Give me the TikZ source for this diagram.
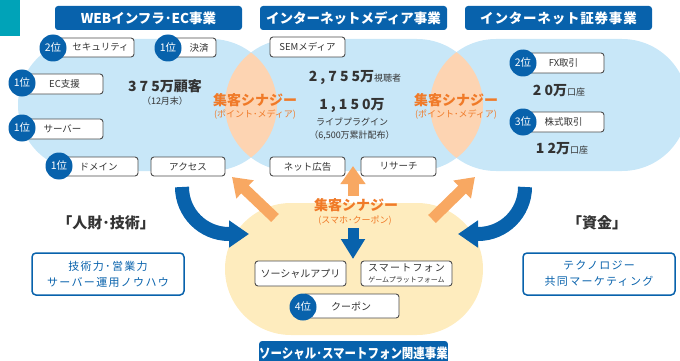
\documentclass[tikz,border=0pt]{standalone}
\usepackage{graphicx}
\usepackage{fontspec}
\setmainfont{Noto Sans CJK JP}
\newfontfamily\widefont[LetterSpace=22]{Noto Sans CJK JP}
\newfontfamily\spacedfont[LetterSpace=12]{Noto Sans CJK JP}
\usetikzlibrary{arrows.meta}

\definecolor{infoblue}{RGB}{8,98,172}
\definecolor{areablue}{RGB}{200,231,248}
\definecolor{peach}{RGB}{253,212,178}
\definecolor{cream}{RGB}{254,236,190}
\definecolor{synorange}{RGB}{240,122,40}
\definecolor{arroworange}{RGB}{248,168,98}
\definecolor{textgray}{RGB}{51,51,51}
\definecolor{cornerteal}{RGB}{0,163,184}

\begin{document}
\begin{tikzpicture}[x=1pt,y=-1pt,
    title/.style = {fill=infoblue, rounded corners=3pt, text=white,
        font=\fontsize{13.5}{14}\selectfont\bfseries,
        minimum width=187, minimum height=24, inner sep=0},
    item/.style = {draw=black!70, fill=white, rounded corners=3pt,
        line width=0.9pt, minimum height=19, inner sep=0,
        text=textgray, font=\fontsize{9.5}{11}\selectfont},
    rank/.style = {circle, fill=infoblue, text=white, minimum size=27,
        inner sep=0, font=\fontsize{10.5}{11}\selectfont},
    figure/.style = {text=textgray, font=\fontsize{14}{15}\selectfont\bfseries},
    note/.style = {text=textgray, font=\fontsize{9}{10}\selectfont},
    synergy/.style = {text=synorange, font=\fontsize{14}{15}\selectfont\bfseries},
    synnote/.style = {text=synorange, font=\fontsize{9}{10}\selectfont},
    asset/.style = {text=textgray, font=\fontsize{15}{16}\selectfont\bfseries},
    assetbox/.style = {draw=infoblue, line width=1.5pt, rounded corners=4pt,
        fill=white, text=infoblue, minimum width=152, minimum height=42,
        align=center, font=\spacedfont\fontsize{11}{16}\selectfont},
    pusharrow/.style = {draw=arroworange, line width=11pt,
        -{Triangle[width=24pt,length=18pt]}},
    pullarrow/.style = {draw=infoblue, line width=14pt,
        -{Triangle[width=26pt,length=20pt]}}]

\useasboundingbox (0,0) rectangle (680,361);

% Corner mark
\fill[cornerteal] (0,0) rectangle (20,36);

% Business areas
\fill[areablue, rounded corners=66] (18,39) rectangle (277,171);
\fill[areablue, rounded corners=66] (225,39) rectangle (483,171);
\fill[areablue, rounded corners=66] (430,39) rectangle (688,171);
\fill[cream, rounded corners=66] (225,203) rectangle (483,335);

% Overlaps
\begin{scope}
    \clip[rounded corners=66] (18,39) rectangle (277,171);
    \fill[peach, rounded corners=66] (225,39) rectangle (483,171);
\end{scope}
\begin{scope}
    \clip[rounded corners=66] (430,39) rectangle (688,171);
    \fill[peach, rounded corners=66] (225,39) rectangle (483,171);
\end{scope}

% Titles
\node[title] (webtitle) at (148.5,18) {WEBインフラ･EC事業};
\node[title] (mediatitle) at (353.5,18) {インターネットメディア事業};
\node[title] (stocktitle) at (558.5,18) {\addfontfeature{LetterSpace=6}インターネット証券事業};
\node[title] (socialtitle) at (353.5,353) {\scalebox{0.85}[1]{ソーシャル･スマートフォン関連事業}};

% Arrows
\coordinate (upstart) at (353,196);
\coordinate (upend) at (353,166);
\coordinate (leftstart) at (275,218);
\coordinate (leftend) at (232,177);
\coordinate (rightstart) at (432,219);
\coordinate (rightend) at (475,177);
\coordinate (downstart) at (353,228);
\coordinate (downend) at (353,259);
\draw[pusharrow] (upstart) -- (upend);
\draw[pusharrow] (leftstart) -- (leftend);
\draw[pusharrow] (rightstart) -- (rightend);
\draw[draw=infoblue, line width=11pt, -{Triangle[width=23pt,length=20pt]}] (downstart) -- (downend);

\coordinate (peoplestart) at (182,187);
\coordinate (peopleend) at (249,234);
\coordinate (fundsstart) at (525,187);
\coordinate (fundsend) at (458,234);
\draw[pullarrow] (peoplestart) .. controls (182,213) and (203,234) .. (229,234) -- (peopleend);
\draw[pullarrow] (fundsstart) .. controls (525,213) and (504,234) .. (478,234) -- (fundsend);

% WEB infra / EC
\node[item, minimum width=81] (security) at (93.5,47.5) {\hspace*{14pt}セキュリティ};
\node[rank] (securityrank) at (53,48) {2位};
\node[item, minimum width=48] (payment) at (192,47.5) {\hspace*{14pt}決済};
\node[rank] (paymentrank) at (168,48) {1位};
\node[item, minimum width=81, minimum height=20] (ecsupport) at (62.5,84) {\hspace*{4pt}EC支援};
\node[rank] (ecrank) at (22,83) {1位};
\node[item, minimum width=81, minimum height=20] (server) at (62.5,129) {サーバー};
\node[rank] (serverrank) at (22,128) {1位};
\node[item, minimum width=79] (domain) at (98.5,166.5) {ドメイン};
\node[rank] (domainrank) at (59,166) {1位};
\node[item, minimum width=74] (access) at (188,166.5) {アクセス};
\node[figure] (customers) at (165,86) {{\widefont 375}万顧客};
\node[note] (monthend) at (165,101) {（12月末）};

% Internet media
\node[item, minimum width=75, minimum height=20] (sem) at (307.5,47) {SEMメディア};
\node[item, minimum width=75] (netad) at (307.5,166.5) {ネット広告};
\node[item, minimum width=75] (research) at (398.5,166.5) {リサーチ};
\node[figure] (viewers) at (355,78) {{\widefont 2,755}万{\normalfont\fontsize{9}{10}\selectfont 視聴者}};
\node[figure] (plugins) at (352,106) {{\widefont 1,150}万};
\node[note] (plugname) at (352,122) {ライブプラグイン};
\node[note] (plugdist) at (352,136) {（6,500万累計配布）};

% Internet securities
\node[item, minimum width=81, minimum height=20] (fx) at (563.5,63) {FX取引};
\node[rank] (fxrank) at (523,63) {2位};
\node[item, minimum width=81, minimum height=20] (stock) at (563.5,122) {株式取引};
\node[rank] (stockrank) at (523,122) {3位};
\node[figure] (fxaccounts) at (559,91) {{\widefont 20}万{\normalfont\fontsize{9}{10}\selectfont 口座}};
\node[figure] (stockaccounts) at (562,149) {{\widefont 12}万{\normalfont\fontsize{9}{10}\selectfont 口座}};

% Social / smartphone
\node[item, minimum width=91, minimum height=25, font=\fontsize{10}{11}\selectfont] (socialapp) at (300.5,273.5) {ソーシャルアプリ};
\node[item, minimum width=91, minimum height=25, align=center, font=\fontsize{10}{11}\selectfont] (smartphone) at (406.5,273.5)
    {{\spacedfont スマートフォン}\\{\fontsize{7}{11}\selectfont ゲームプラットフォーム}};
\node[item, minimum width=96, minimum height=24, font=\fontsize{10}{11}\selectfont] (coupon) at (351,306) {クーポン};
\node[rank] (couponrank) at (303,307) {4位};

% Synergies
\node[synergy] (synleft) at (255,100) {集客シナジー};
\node[synnote] (synleftnote) at (255,115) {(ポイント･メディア)};
\node[synergy] (synright) at (456,100) {集客シナジー};
\node[synnote] (synrightnote) at (456,115) {(ポイント･メディア)};
\node[synergy] (synbottom) at (356,205) {集客シナジー};
\node[synnote] (synbottomnote) at (355,221) {(スマホ･クーポン)};

% Resources
\node[asset] (people) at (106,223) {「人財･技術」};
\node[assetbox] (skills) at (108,274) {技術力･営業力\\サーバー運用ノウハウ};
\node[asset] (funds) at (597,223) {「資金」};
\node[assetbox] (marketing) at (599,274) {テクノロジー\\共同マーケティング};

\end{tikzpicture}
\end{document}
